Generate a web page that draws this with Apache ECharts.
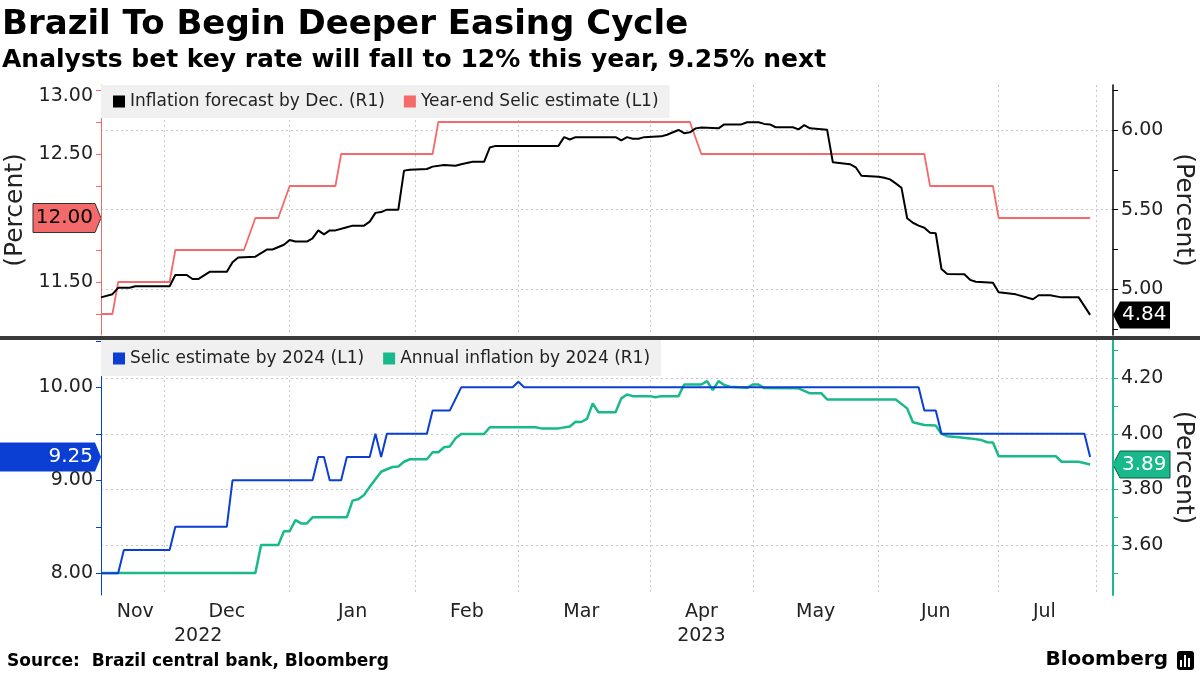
<!DOCTYPE html>
<html><head><meta charset="utf-8">
<script src="https://cdn.jsdelivr.net/npm/echarts@6/dist/echarts.min.js"></script>
<style>html,body{margin:0;padding:0;background:#fff}#c{width:1200px;height:675px}</style>
</head><body><div id="c"></div>
<script>
// ---- categories: Brazilian business days ----
const startDate = '2022-11-16';
const endDate = '2023-07-31';
const holidays = ['2022-11-15','2023-02-20','2023-02-21','2023-04-07','2023-04-21','2023-05-01','2023-06-08'];
function businessDays(a, b) {
  const out = [];
  const d = new Date(a + 'T00:00:00Z');
  const e = new Date(b + 'T00:00:00Z');
  while (d <= e) {
    const s = d.toISOString().slice(0, 10);
    const wd = d.getUTCDay();
    if (wd !== 0 && wd !== 6 && holidays.indexOf(s) < 0) out.push(s);
    d.setUTCDate(d.getUTCDate() + 1);
  }
  return out;
}
const categories = businessDays(startDate, endDate);
const gridDates = ['2022-12-01','2023-01-02','2023-02-01','2023-03-01','2023-04-03','2023-05-02','2023-06-01','2023-07-03','2023-07-26'];
const monthLabels = {'2022-11-24':'Nov','2022-12-16':'Dec','2023-01-17':'Jan','2023-02-14':'Feb','2023-03-16':'Mar','2023-04-17':'Apr','2023-05-17':'May','2023-06-16':'Jun','2023-07-13':'Jul'};
const yearLabels = {'2022-12-09':'2022','2023-04-17':'2023'};

// ---- tick labels ----
const topLeftTicks = [11.25,11.5,11.75,12,12.25,12.5,12.75,13];
const topLeftLabels = [11.5,12.5,13];
const topRightTicks = [4.75,5,5.25,5.5,5.75,6,6.25];
const topRightLabels = [5,5.5,6];
const botLeftTicks = [8,8.5,9,9.5,10,10.5];
const botLeftLabels = [8,9,10];
const botRightTicks = [3.5,3.6,3.7,3.8,3.9,4.0,4.1,4.2,4.3];
const botRightLabels = [3.6,3.8,4.0,4.2];

// ---- series ----
const selicYearEnd = [['2022-11-16',11.25],['2022-11-18',11.25],['2022-11-21',11.50],['2022-12-02',11.50],['2022-12-05',11.75],['2022-12-21',11.75],['2022-12-23',12.00],['2022-12-29',12.00],['2023-01-02',12.25],['2023-01-12',12.25],['2023-01-13',12.50],['2023-02-06',12.50],['2023-02-07',12.75],['2023-04-13',12.75],['2023-04-17',12.50],['2023-06-14',12.50],['2023-06-15',12.25],['2023-06-30',12.25],['2023-07-03',12.00],['2023-07-25',12.00]];
const inflationDec = [['2022-11-16',4.95],['2022-11-18',4.97],['2022-11-21',5.01],['2022-11-23',5.01],['2022-11-24',5.02],['2022-12-02',5.02],['2022-12-05',5.09],['2022-12-07',5.09],['2022-12-08',5.065],['2022-12-09',5.065],['2022-12-13',5.11],['2022-12-16',5.11],['2022-12-19',5.17],['2022-12-20',5.20],['2022-12-23',5.205],['2022-12-27',5.25],['2022-12-28',5.25],['2022-12-30',5.28],['2023-01-02',5.31],['2023-01-03',5.30],['2023-01-05',5.30],['2023-01-06',5.32],['2023-01-09',5.37],['2023-01-10',5.345],['2023-01-11',5.37],['2023-01-12',5.37],['2023-01-16',5.39],['2023-01-17',5.40],['2023-01-19',5.40],['2023-01-20',5.425],['2023-01-23',5.48],['2023-01-24',5.485],['2023-01-25',5.50],['2023-01-27',5.50],['2023-01-30',5.745],['2023-01-31',5.75],['2023-02-03',5.755],['2023-02-06',5.77],['2023-02-08',5.78],['2023-02-10',5.775],['2023-02-13',5.785],['2023-02-15',5.80],['2023-02-17',5.80],['2023-02-22',5.89],['2023-02-23',5.90],['2023-03-10',5.90],['2023-03-13',5.955],['2023-03-14',5.94],['2023-03-15',5.955],['2023-03-24',5.955],['2023-03-27',5.935],['2023-03-28',5.955],['2023-03-29',5.945],['2023-03-30',5.945],['2023-03-31',5.955],['2023-04-05',5.96],['2023-04-06',5.97],['2023-04-11',6.00],['2023-04-12',5.98],['2023-04-13',5.985],['2023-04-14',6.01],['2023-04-17',6.015],['2023-04-20',6.01],['2023-04-24',6.035],['2023-04-27',6.035],['2023-04-28',6.048],['2023-05-03',6.048],['2023-05-04',6.038],['2023-05-05',6.035],['2023-05-08',6.017],['2023-05-11',6.017],['2023-05-12',6.004],['2023-05-15',6.03],['2023-05-16',6.01],['2023-05-19',6.002],['2023-05-22',5.797],['2023-05-25',5.785],['2023-05-26',5.766],['2023-05-29',5.713],['2023-06-01',5.707],['2023-06-02',5.70],['2023-06-05',5.69],['2023-06-06',5.665],['2023-06-07',5.638],['2023-06-09',5.446],['2023-06-12',5.418],['2023-06-13',5.40],['2023-06-14',5.387],['2023-06-15',5.355],['2023-06-16',5.352],['2023-06-19',5.128],['2023-06-20',5.097],['2023-06-23',5.095],['2023-06-26',5.06],['2023-06-27',5.048],['2023-06-30',5.042],['2023-07-03',4.982],['2023-07-06',4.969],['2023-07-11',4.938],['2023-07-12',4.963],['2023-07-14',4.963],['2023-07-18',4.95],['2023-07-21',4.95],['2023-07-25',4.84]];
const selic2024 = [['2022-11-16',8.00],['2022-11-21',8.00],['2022-11-22',8.25],['2022-12-02',8.25],['2022-12-05',8.50],['2022-12-16',8.50],['2022-12-19',9.00],['2023-01-06',9.00],['2023-01-09',9.25],['2023-01-10',9.25],['2023-01-11',9.00],['2023-01-13',9.00],['2023-01-16',9.25],['2023-01-20',9.25],['2023-01-23',9.50],['2023-01-24',9.25],['2023-01-25',9.50],['2023-02-03',9.50],['2023-02-06',9.75],['2023-02-09',9.75],['2023-02-13',10.00],['2023-02-28',10.00],['2023-03-01',10.06],['2023-03-02',10.00],['2023-06-13',10.00],['2023-06-14',9.75],['2023-06-16',9.75],['2023-06-19',9.50],['2023-07-24',9.50],['2023-07-25',9.25]];
const inflation2024 = [['2022-11-16',3.50],['2022-12-23',3.50],['2022-12-26',3.60],['2022-12-29',3.60],['2022-12-30',3.65],['2023-01-02',3.65],['2023-01-03',3.69],['2023-01-04',3.678],['2023-01-05',3.678],['2023-01-06',3.70],['2023-01-16',3.70],['2023-01-17',3.76],['2023-01-18',3.765],['2023-01-19',3.78],['2023-01-20',3.81],['2023-01-23',3.837],['2023-01-24',3.864],['2023-01-25',3.873],['2023-01-26',3.881],['2023-01-27',3.883],['2023-01-30',3.90],['2023-01-31',3.909],['2023-02-03',3.909],['2023-02-06',3.934],['2023-02-07',3.934],['2023-02-08',3.952],['2023-02-09',3.955],['2023-02-10',3.984],['2023-02-13',4.00],['2023-02-17',4.00],['2023-02-22',4.024],['2023-03-06',4.024],['2023-03-07',4.02],['2023-03-10',4.02],['2023-03-14',4.027],['2023-03-15',4.044],['2023-03-16',4.043],['2023-03-17',4.054],['2023-03-20',4.11],['2023-03-21',4.078],['2023-03-24',4.078],['2023-03-27',4.128],['2023-03-28',4.142],['2023-03-29',4.136],['2023-04-03',4.136],['2023-04-04',4.132],['2023-04-05',4.136],['2023-04-11',4.136],['2023-04-12',4.178],['2023-04-17',4.178],['2023-04-18',4.19],['2023-04-19',4.158],['2023-04-20',4.19],['2023-04-24',4.176],['2023-04-25',4.17],['2023-04-28',4.166],['2023-05-02',4.178],['2023-05-03',4.178],['2023-05-04',4.165],['2023-05-12',4.164],['2023-05-16',4.146],['2023-05-18',4.146],['2023-05-19',4.124],['2023-06-06',4.124],['2023-06-09',4.092],['2023-06-12',4.042],['2023-06-14',4.032],['2023-06-16',4.03],['2023-06-19',4.00],['2023-06-20',3.992],['2023-06-22',3.988],['2023-06-26',3.984],['2023-06-28',3.978],['2023-06-29',3.97],['2023-06-30',3.969],['2023-07-03',3.92],['2023-07-17',3.92],['2023-07-18',3.90],['2023-07-21',3.90],['2023-07-25',3.89]];

const names = ['Inflation forecast by Dec. (R1)','Year-end Selic estimate (L1)','Selic estimate by 2024 (L1)','Annual inflation by 2024 (R1)'];

// ---- styling ----
const FF = '"DejaVu Sans", sans-serif';
const RED = '#f46a6a', BLACK = '#000000', BLUE = '#0b3fd4', GREEN = '#19b98c';
const gridLine = {show: true, lineStyle: {color: '#c8c8c8', type: [2, 3], width: 1}};
const nameStyle = {fontSize: 25, color: '#222', fontFamily: FF};

function valueAxis(gridIndex, position, min, max, color, lw, ticks, labels, name, gap, rot) {
  const ax = {
    type: 'value', gridIndex, position, min, max,
    axisLine: {show: true, lineStyle: {color, width: lw}},
    axisTick: {show: true, length: 5, customValues: ticks, lineStyle: {color, width: 1}},
    axisLabel: {customValues: labels, fontSize: 19, color: '#222', fontFamily: FF, margin: 8,
      // the top-most label sits just inside the plot, as in the reference
      formatter: v => (Math.abs(v - labels[labels.length - 1]) < 1e-9 && max - v < 0.06 * (max - min)) ? '{t|' + Number(v).toFixed(2) + '}' : Number(v).toFixed(2),
      rich: {t: {fontSize: 19, color: '#222', fontFamily: FF, padding: [13, 0, 0, 0]}}},
    splitLine: {show: false}
  };
  if (name) Object.assign(ax, {name, nameLocation: 'middle', nameGap: gap, nameRotate: rot, nameMoveOverlap: false, nameTextStyle: nameStyle});
  return ax;
}
function gridAxis(gridIndex, min, max, values) {
  return {type: 'value', gridIndex, position: 'right', min, max,
    axisLine: {show: false}, axisTick: {show: false, customValues: values},
    axisLabel: {show: false}, splitLine: gridLine};
}
function catAxis(gridIndex, labels, offset, split) {
  return {type: 'category', gridIndex, data: categories, boundaryGap: false, position: 'bottom', offset: offset || 0,
    axisLine: {show: false}, axisTick: {show: false},
    axisLabel: labels ? {show: true, interval: (i, v) => v in labels, formatter: v => labels[v] || '', fontSize: 19, color: '#222', fontFamily: FF, margin: 8} : {show: false},
    splitLine: split ? {show: true, interval: (i, v) => gridDates.indexOf(v) >= 0, lineStyle: gridLine.lineStyle} : {show: false}};
}
const legendBase = {icon: 'rect', itemWidth: 12, itemHeight: 12, itemGap: 19, left: 101,
  backgroundColor: '#f0f0f0', textStyle: {fontSize: 17, color: '#222', fontFamily: FF}, selectedMode: false};

const chart = echarts.init(document.getElementById('c'), null, {renderer: 'canvas'});
chart.setOption({
  animation: false,
  backgroundColor: '#ffffff',
  textStyle: {fontFamily: FF},
  title: {text: 'Brazil To Begin Deeper Easing Cycle', subtext: 'Analysts bet key rate will fall to 12% this year, 9.25% next',
    left: 2, top: 8, padding: 0, itemGap: 6,
    textStyle: {fontSize: 34, fontWeight: 'bold', color: '#000', fontFamily: FF},
    subtextStyle: {fontSize: 25, fontWeight: 'bold', color: '#000', fontFamily: FF}},
  legend: [
    Object.assign({top: 85, padding: [8, 11, 8, 12], data: [names[0], names[1]]}, legendBase),
    Object.assign({top: 340, padding: [10, 11, 9, 12], data: [names[2], names[3]]}, legendBase)
  ],
  grid: [
    {left: 101, right: 87, top: 85, height: 250, outerBoundsMode: 'none'},
    {left: 101, right: 87, top: 340, height: 255, outerBoundsMode: 'none'}
  ],
  xAxis: [catAxis(0, null, 0, true), catAxis(1, monthLabels, 0, true), catAxis(1, yearLabels, 24, false)],
  yAxis: [
    valueAxis(0, 'left', 11.086, 13.039, RED, 1, topLeftTicks, topLeftLabels, '(Percent)', 73, 90),
    valueAxis(0, 'right', 4.714, 6.282, BLACK, 1.5, topRightTicks, topRightLabels, '(Percent)', 58, -90),
    gridAxis(0, 4.714, 6.282, topRightLabels),
    valueAxis(1, 'left', 7.767, 10.509, BLUE, 1, botLeftTicks, botLeftLabels, null),
    valueAxis(1, 'right', 3.4205, 4.338, GREEN, 2, botRightTicks, botRightLabels, '(Percent)', 58, -90),
    gridAxis(1, 3.4205, 4.338, botRightLabels)
  ],
  series: [
    {name: names[0], type: 'line', xAxisIndex: 0, yAxisIndex: 1, data: inflationDec, symbol: 'none', z: 4, lineStyle: {color: BLACK, width: 2}, itemStyle: {color: BLACK}},
    {name: names[1], type: 'line', xAxisIndex: 0, yAxisIndex: 0, data: selicYearEnd, symbol: 'none', z: 3, lineStyle: {color: RED, width: 1.8}, itemStyle: {color: RED}},
    {name: names[2], type: 'line', xAxisIndex: 1, yAxisIndex: 3, data: selic2024, symbol: 'none', z: 4, lineStyle: {color: BLUE, width: 2}, itemStyle: {color: BLUE}},
    {name: names[3], type: 'line', xAxisIndex: 1, yAxisIndex: 4, data: inflation2024, symbol: 'none', z: 3, lineStyle: {color: GREEN, width: 2.5}, itemStyle: {color: GREEN}}
  ]
});

// ---- last-value tags on the axes (positions from the library's scales) ----
const last = arr => arr[arr.length - 1][1];
function leftTag(yAxisIndex, value, xL, fill, stroke, textFill) {
  const y = chart.convertToPixel({yAxisIndex}, value);
  return {type: 'group', z: 50, children: [
    {type: 'polygon', shape: {points: [[xL, y - 14.5], [95, y - 14.5], [101, y], [95, y + 14.5], [xL, y + 14.5]]}, style: {fill, stroke, lineWidth: stroke ? 1 : 0}},
    {type: 'text', style: {text: value.toFixed(2), x: 93, y, align: 'right', textAlign: 'right', verticalAlign: 'middle', textVerticalAlign: 'middle', fill: textFill, font: '20px ' + FF}}
  ]};
}
function rightTag(yAxisIndex, value, fill, stroke) {
  const y = chart.convertToPixel({yAxisIndex}, value);
  return {type: 'group', z: 50, children: [
    {type: 'polygon', shape: {points: [[1113, y], [1120, y - 13.5], [1170, y - 13.5], [1170, y + 13.5], [1120, y + 13.5]]}, style: {fill, stroke, lineWidth: stroke ? 1 : 0}},
    {type: 'text', style: {text: value.toFixed(2), x: 1122, y, align: 'left', textAlign: 'left', verticalAlign: 'middle', textVerticalAlign: 'middle', fill: '#fff', font: '20px ' + FF}}
  ]};
}
chart.setOption({
  graphic: [
    {type: 'rect', z: 40, shape: {x: 0, y: 336, width: 1200, height: 4}, style: {fill: '#3a3a3a'}},
    leftTag(0, last(selicYearEnd), 33, RED, '#333', '#000'),
    leftTag(3, last(selic2024), 0, BLUE, null, '#fff'),
    rightTag(1, last(inflationDec), '#000', null),
    rightTag(4, last(inflation2024), GREEN, '#0a5a44'),
    {type: 'text', z: 50, style: {text: 'Source:  Brazil central bank, Bloomberg', x: 7, y: 662, verticalAlign: 'middle', textVerticalAlign: 'middle', fill: '#000', font: 'bold 17px ' + FF}},
    {type: 'text', z: 50, style: {text: 'Bloomberg', x: 1168, y: 660, align: 'right', textAlign: 'right', verticalAlign: 'middle', textVerticalAlign: 'middle', fill: '#000', font: 'bold 20px ' + FF}},
    {type: 'group', z: 50, children: [
      {type: 'rect', shape: {x: 1177, y: 651, width: 17, height: 19, r: 3}, style: {fill: '#000'}},
      {type: 'rect', shape: {x: 1180, y: 660, width: 2, height: 7}, style: {fill: '#fff'}},
      {type: 'rect', shape: {x: 1184, y: 655, width: 2, height: 12}, style: {fill: '#fff'}},
      {type: 'rect', shape: {x: 1188, y: 658, width: 2, height: 9}, style: {fill: '#fff'}}
    ]}
  ]
});
</script></body></html>
